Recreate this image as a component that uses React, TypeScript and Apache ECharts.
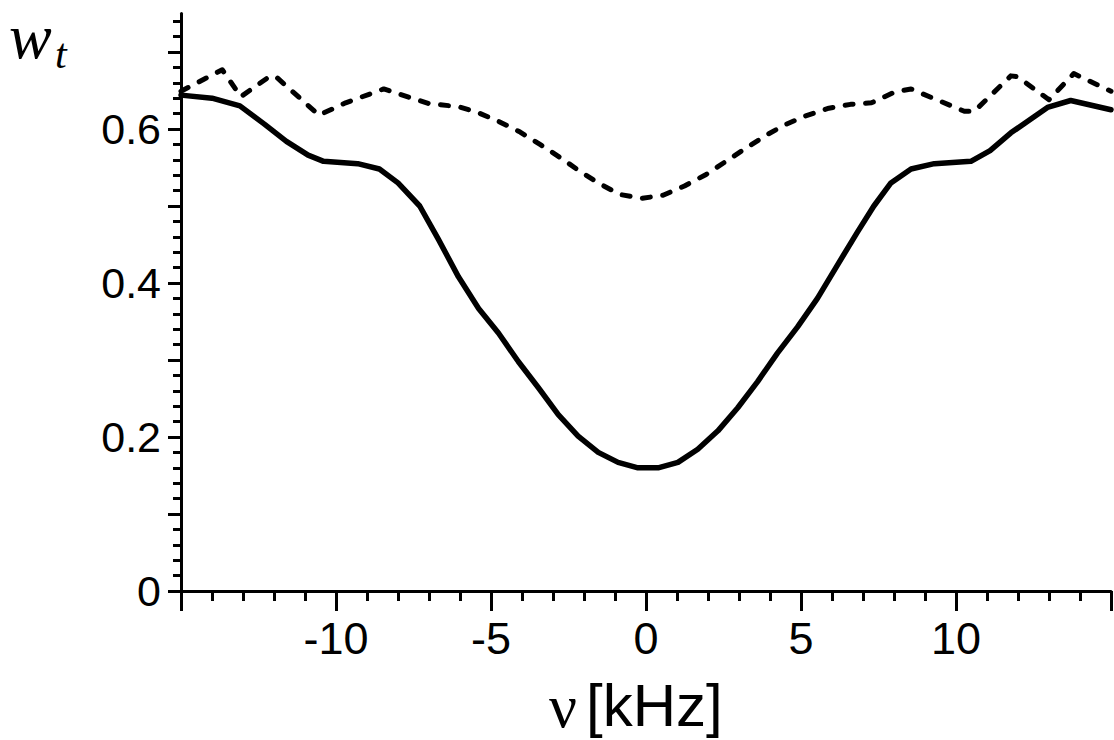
import React, { useEffect, useRef } from "react";
import * as echarts from "echarts";

// Solid curve (frequency in kHz, w_t)
const solidNu = [
  -15, -14, -13.1, -12.3, -11.6, -10.9, -10.4, -9.3, -8.6, -8.0, -7.3, -6.7, -6.05, -5.4, -4.76, -4.12,
  -3.47, -2.83, -2.19, -1.54, -0.9, -0.26, 0.39, 1.03, 1.67, 2.32, 2.96, 3.6, 4.24, 4.89, 5.53, 6.17,
  6.82, 7.35, 7.9, 8.55, 9.3, 10.48, 11.1, 11.77, 12.95, 13.7, 15,
];
const solidW = [
  0.644, 0.64, 0.63, 0.606, 0.584, 0.566, 0.558, 0.555, 0.548, 0.53, 0.5, 0.457, 0.408, 0.367, 0.335, 0.298,
  0.264, 0.229, 0.201, 0.18, 0.167, 0.16, 0.16, 0.167, 0.184, 0.208, 0.238, 0.272, 0.309, 0.343, 0.38, 0.423,
  0.466, 0.5, 0.53, 0.548, 0.555, 0.558, 0.572, 0.595, 0.628, 0.637, 0.625,
];

// Dashed curve
const dashedNu = [
  -15, -13.67, -13.07, -12.15, -11.94, -10.55, -9.69, -8.46, -7.55, -7.0, -6.05, -5.4, -4.76, -4.06, -3.42,
  -2.77, -2.13, -1.54, -0.85, -0.12, 0.55, 1.24, 1.94, 2.58, 3.22, 3.92, 4.51, 5.15, 5.9, 6.6, 7.27, 8.02,
  8.55, 10.27, 10.59, 11.77, 11.98, 13.0, 13.8, 15,
];
const dashedW = [
  0.649, 0.677, 0.642, 0.668, 0.668, 0.618, 0.634, 0.652, 0.64, 0.633, 0.629, 0.621, 0.61, 0.596, 0.58,
  0.563, 0.545, 0.53, 0.515, 0.51, 0.514, 0.526, 0.541, 0.558, 0.575, 0.593, 0.606, 0.617, 0.627, 0.632, 0.634, 0.648,
  0.652, 0.623, 0.623, 0.669, 0.668, 0.638, 0.672, 0.649,
];

const xLabelValues = [-10, -5, 0, 5, 10];
const yLabelValues = [0, 0.2, 0.4, 0.6];

const X_MIN = -15;
const X_MAX = 15;
const Y_MAX = 0.75;
const Y_MINOR_MAX = 0.74;
const Y_MAJOR_MAX = 0.7;

export default function App() {
  const ref = useRef<HTMLDivElement>(null);

  useEffect(() => {
    if (!ref.current) return;
    const chart = echarts.init(ref.current, undefined, { renderer: "svg" });

    const H = 740;
    const axisY = 591;
    const pxPerUnit = 770;
    const left = 181;
    const right = 1;
    const bottom = H - axisY;
    const black = "#000";

    const hiddenX = (g: number) => ({
      gridIndex: g,
      type: "value",
      min: X_MIN,
      max: X_MAX,
      show: false,
    });

    const option: any = {
      animation: false,
      backgroundColor: "#fff",
      grid: [
        { left, right, bottom, top: axisY - Y_MAX * pxPerUnit },
        { left, right, bottom, top: axisY - Y_MINOR_MAX * pxPerUnit },
        { left, right, bottom, top: axisY - Y_MAJOR_MAX * pxPerUnit },
      ],
      xAxis: [
        {
          gridIndex: 0,
          type: "value",
          position: "bottom",
          min: X_MIN,
          max: X_MAX,
          interval: 5,
          axisLine: { show: true, onZero: false, lineStyle: { color: black, width: 3 } },
          axisTick: { show: true, inside: false, length: 20, lineStyle: { color: black, width: 3 } },
          minorTick: { show: true, splitNumber: 5, length: 10, lineStyle: { color: black, width: 3 } },
          splitLine: { show: false },
          minorSplitLine: { show: false },
          axisLabel: {
            color: "#000",
            fontSize: 45,
            fontFamily: "Liberation Sans, Arial, sans-serif",
            margin: 25,
            formatter: (v: number) => (xLabelValues.includes(v) ? String(v) : ""),
          },
        },
        hiddenX(1),
        hiddenX(2),
      ],
      yAxis: [
        {
          gridIndex: 0,
          type: "value",
          position: "left",
          min: 0,
          max: Y_MAX,
          axisLine: { show: true, onZero: false, lineStyle: { color: black, width: 3 } },
          axisTick: { show: false },
          axisLabel: { show: false },
          splitLine: { show: false },
        },
        {
          gridIndex: 1,
          type: "value",
          position: "left",
          min: 0,
          max: Y_MINOR_MAX,
          interval: 0.02,
          axisLine: { show: false, onZero: false },
          axisTick: { show: true, length: 8, lineStyle: { color: black, width: 3 } },
          axisLabel: { show: false },
          splitLine: { show: false },
        },
        {
          gridIndex: 2,
          type: "value",
          position: "left",
          min: 0,
          max: Y_MAJOR_MAX,
          interval: 0.1,
          axisLine: { show: false, onZero: false },
          axisTick: { show: true, length: 13, lineStyle: { color: black, width: 3 } },
          splitLine: { show: false },
          axisLabel: {
            color: "#000",
            fontSize: 43,
            fontFamily: "Liberation Sans, Arial, sans-serif",
            margin: 20,
            formatter: (v: number) => {
              const hit = yLabelValues.find((t) => Math.abs(t - v) < 1e-6);
              return hit === undefined ? "" : String(hit);
            },
          },
        },
      ],
      series: [
        {
          type: "line",
          xAxisIndex: 0,
          yAxisIndex: 0,
          data: solidNu.map((x, i) => [x, solidW[i]]),
          symbol: "none",
          lineStyle: { color: black, width: 5.5, cap: "round", join: "round" },
        },
        {
          type: "line",
          xAxisIndex: 0,
          yAxisIndex: 0,
          data: dashedNu.map((x, i) => [x, dashedW[i]]),
          symbol: "none",
          lineStyle: { color: black, width: 5, type: [8, 12.5], cap: "round", join: "round" },
        },
      ],
      graphic: [
        {
          type: "text",
          left: 9,
          top: 4,
          style: {
            text: "w",
            font: "italic 64px 'Liberation Serif', 'Times New Roman', serif",
            lineHeight: 64,
            fill: "#000",
          },
        },
        {
          type: "text",
          left: 55,
          top: 33,
          style: {
            text: "t",
            font: "italic 42px 'Liberation Serif', 'Times New Roman', serif",
            fill: "#000",
          },
        },
        {
          type: "text",
          left: 549,
          top: 675,
          style: {
            text: "ν",
            font: "62px 'Liberation Serif', 'Times New Roman', serif",
            fill: "#000",
          },
        },
        {
          type: "text",
          left: 586,
          top: 675,
          style: {
            text: "[kHz]",
            font: "60px 'Liberation Sans', Arial, sans-serif",
            fill: "#000",
          },
        },
      ],
    };

    chart.setOption(option);
    return () => chart.dispose();
  }, []);

  return (
    <div
      ref={ref}
      style={{ position: "fixed", left: 0, top: 0, width: 1114, height: 740, background: "#fff" }}
    />
  );
}
